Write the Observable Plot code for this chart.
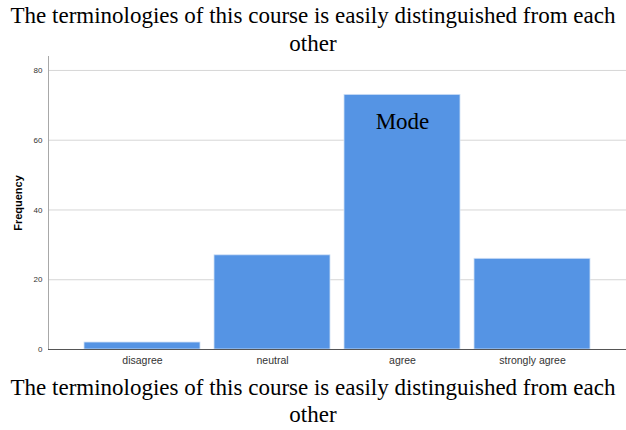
<!DOCTYPE html>
<html>
<head>
<meta charset="utf-8">
<script src="https://cdn.jsdelivr.net/npm/d3@7"></script>
<script src="https://cdn.jsdelivr.net/npm/@observablehq/plot@0.6"></script>
<style>
  body { margin: 0; background: #fff; width: 626px; }
  .cap { font-family: "Liberation Serif", "Times New Roman", serif; font-size: 23px; line-height: 27px; text-align: center; color: #000; white-space: nowrap; }
  #title { height: 55px; padding-top: 2px; line-height: 28px; box-sizing: border-box; }
  #caption { margin-top: -3px; }
  #chart svg { display: block; }
  g[aria-label="y-axis label"] text { font-weight: bold; font-size: 11px; fill: #000; }
</style>
</head>
<body>
<div id="title" class="cap"></div>
<div id="chart"></div>
<div id="caption" class="cap"></div>
<script>
const titleLines = ["The terminologies of this course is easily distinguished from each", "other"];
const categories = ["disagree", "neutral", "agree", "strongly agree"];
const frequencies = [2, 27, 73, 26];
const yTicks = [0, 20, 40, 60, 80];
const gridTicks = [20, 40, 60, 80];
const modeLabel = "Mode";
const modeCategory = "agree";

for (const id of ["title", "caption"]) {
  const el = document.getElementById(id);
  titleLines.forEach((t, i) => {
    if (i) el.appendChild(document.createElement("br"));
    el.appendChild(document.createTextNode(t));
  });
}

const data = categories.map((c, i) => ({category: c, frequency: frequencies[i]}));
const modeData = data.filter(d => d.category === modeCategory);

const chart = Plot.plot({
  width: 626,
  height: 322,
  marginLeft: 48,
  marginRight: 0,
  marginTop: 1,
  marginBottom: 28,
  style: {fontFamily: "'Liberation Sans', Arial, sans-serif", color: "#333", background: "#fff"},
  x: {domain: categories, paddingInner: 0.108, paddingOuter: 0.277, label: null},
  y: {domain: [0, 84], label: null},
  marks: [
    Plot.ruleY(gridTicks, {stroke: "#d6d6d6", strokeWidth: 1}),
    Plot.barY(data, {x: "category", y: "frequency", fill: "#5594e4", stroke: "#cfe0f6", strokeWidth: 0.8}),
    Plot.frame({anchor: "left", stroke: "#a8a8a8"}),
    Plot.ruleY([0], {stroke: "#555", strokeWidth: 1}),
    Plot.axisY({ticks: yTicks, tickSize: 0, tickPadding: 6, fontSize: 8, label: "Frequency", labelAnchor: "center", labelArrow: "none", labelOffset: 34}),
    Plot.axisX({tickSize: 0, tickPadding: 7, fontSize: 10.5, label: null}),
    Plot.text(modeData, {x: "category", y: "frequency", text: () => modeLabel, dy: 27, fontSize: 23, fontFamily: "'Liberation Serif', 'Times New Roman', serif", fill: "#000"})
  ]
});
document.getElementById("chart").appendChild(chart);
</script>
</body>
</html>
